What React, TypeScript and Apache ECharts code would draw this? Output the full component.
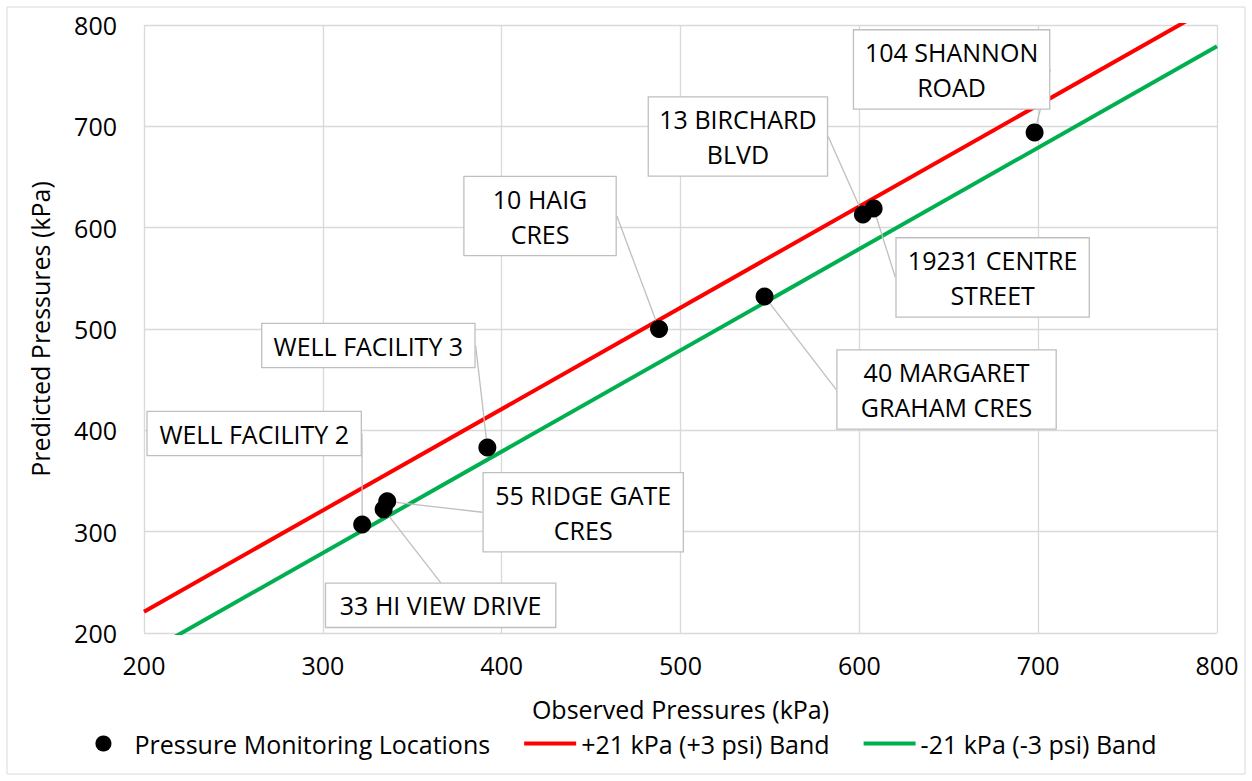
import React, { useEffect, useRef } from "react";
import * as echarts from "echarts";

const locationNames = [
  "WELL FACILITY 2",
  "33 HI VIEW DRIVE",
  "55 RIDGE GATE\nCRES",
  "WELL FACILITY 3",
  "10 HAIG\nCRES",
  "40 MARGARET\nGRAHAM CRES",
  "13 BIRCHARD\nBLVD",
  "19231 CENTRE\nSTREET",
  "104 SHANNON\nROAD",
];
const observed = [322, 334, 336, 392, 488, 547, 602, 608, 698];
const predicted = [307, 322, 330, 383, 500, 532, 613, 619, 694];

const bandOffset = 21;
const bandX = [200, 800];
const axisTicks = [200, 300, 400, 500, 600, 700, 800];

// label placement (pixels, relative to the point) and box widths
const labelOffsets = [
  [-108, -91],
  [57, 96],
  [196, 11],
  [-119, -102],
  [-119, -113],
  [182, 93],
  [-125, -78],
  [119, 69],
  [-83, -63],
];
const labelWidths = [193, 209, 179, 192, 131, 198, 158, 172, 175];

const FONT = "'Open Sans', sans-serif";
const FS = 25;

export default function App() {
  const ref = useRef<HTMLDivElement>(null);
  useEffect(() => {
    document.body.style.margin = "0";
    const chart = echarts.init(ref.current!, undefined, { renderer: "svg" });
    const scatterData = observed.map((x, i) => ({
      value: [x, predicted[i]],
      name: locationNames[i],
      label: { width: labelWidths[i] },
    }));
    chart.setOption({
      animation: false,
      backgroundColor: "#ffffff",
      textStyle: { fontFamily: FONT },
      graphic: [
        {
          type: "rect",
          shape: { x: 7, y: 7, width: 1238, height: 767 },
          style: { fill: "none", stroke: "#d9d9d9", lineWidth: 1 },
          silent: true,
        },
      ],
      grid: { left: 144, right: 35, top: 25, bottom: 148 },
      xAxis: {
        type: "value",
        min: axisTicks[0],
        max: axisTicks[axisTicks.length - 1],
        interval: 100,
        name: "Observed Pressures (kPa)",
        nameLocation: "middle",
        nameGap: 66,
        nameTextStyle: { fontSize: FS, lineHeight: 20, color: "#000", fontFamily: FONT },
        axisLine: { show: false },
        axisTick: { show: false },
        axisLabel: { fontSize: FS, color: "#000", margin: 19, fontFamily: FONT },
        splitLine: { show: true, lineStyle: { color: "#d9d9d9", width: 1.3 } },
      },
      yAxis: {
        type: "value",
        min: axisTicks[0],
        max: axisTicks[axisTicks.length - 1],
        interval: 100,
        name: "Predicted Pressures (kPa)",
        nameLocation: "middle",
        nameGap: 92,
        nameTextStyle: { fontSize: FS, color: "#000", fontFamily: FONT },
        axisLine: { show: false },
        axisTick: { show: false },
        axisLabel: { fontSize: FS, color: "#000", margin: 27, fontFamily: FONT },
        splitLine: { show: true, lineStyle: { color: "#d9d9d9", width: 1.3 } },
      },
      legend: {
        bottom: 20,
        left: "center",
        itemWidth: 52,
        itemHeight: 16,
        itemGap: 34,
        textStyle: { fontSize: FS, lineHeight: 20, color: "#000", fontFamily: FONT },
        data: [
          { name: "Pressure Monitoring Locations", icon: "circle" },
          { name: "+21 kPa (+3 psi) Band", icon: "path://M0,0H52V4H0Z" },
          { name: "-21 kPa (-3 psi) Band", icon: "path://M0,0H52V4H0Z" },
        ],
      },
      series: [
        {
          name: "+21 kPa (+3 psi) Band",
          type: "line",
          symbol: "none",
          clip: true,
          z: 2,
          lineStyle: { color: "#ff0000", width: 4 },
          itemStyle: { color: "#ff0000" },
          data: bandX.map((x) => [x, x + bandOffset]),
        },
        {
          name: "-21 kPa (-3 psi) Band",
          type: "line",
          symbol: "none",
          clip: true,
          z: 2,
          lineStyle: { color: "#00b050", width: 4 },
          itemStyle: { color: "#00b050" },
          data: bandX.map((x) => [x, x - bandOffset]),
        },
        {
          name: "Pressure Monitoring Locations",
          type: "scatter",
          symbol: "circle",
          symbolSize: 18,
          z: 5,
          itemStyle: { color: "#000000", opacity: 1 },
          data: scatterData,
          label: {
            show: true,
            position: "inside",
            formatter: "{b}",
            fontSize: FS,
            lineHeight: 35,
            color: "#000",
            fontFamily: FONT,
            align: "center",
            backgroundColor: "#ffffff",
            borderColor: "#bfbfbf",
            borderWidth: 1.3,
            padding: [4, 10],
          },
          labelLine: {
            show: true,
            lineStyle: { color: "#bfbfbf", width: 1.3 },
          },
          labelLayout: (params: any) => {
            const o = labelOffsets[params.dataIndex];
            return { dx: o[0], dy: o[1], hideOverlap: false };
          },
        },
      ],
    });
    return () => chart.dispose();
  }, []);
  return (
    <div
      ref={ref}
      style={{ width: 1252, height: 781, position: "absolute", left: 0, top: 0 }}
    />
  );
}
